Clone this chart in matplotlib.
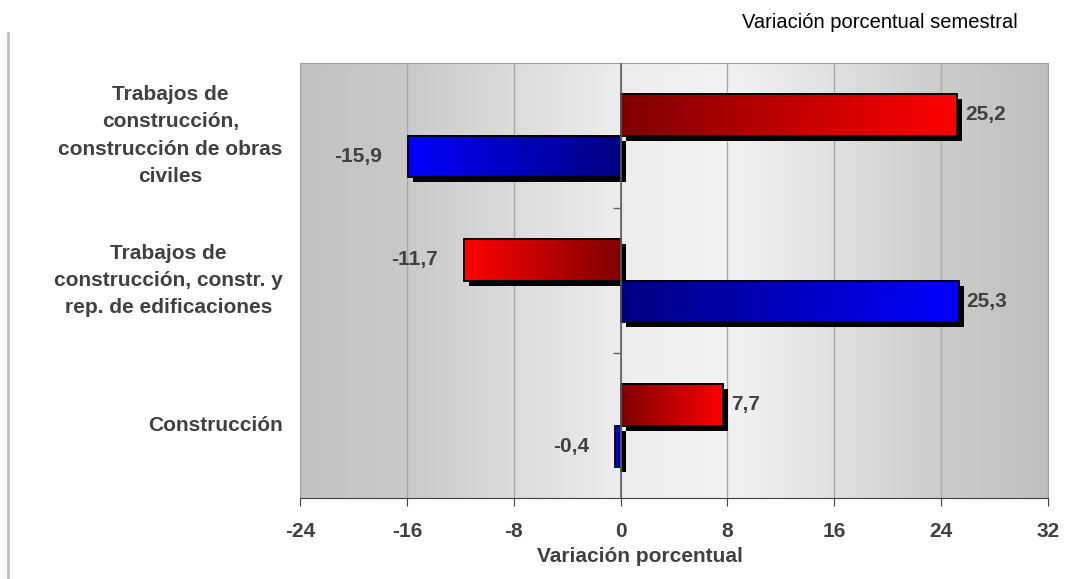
import numpy as np
import matplotlib
matplotlib.use("Agg")
import matplotlib.pyplot as plt
import matplotlib.transforms as mtransforms
from matplotlib.patches import Rectangle
from matplotlib.colors import LinearSegmentedColormap

plt.rcParams["font.family"] = ["Liberation Sans", "DejaVu Sans"]

# datos
categorias = ["Construcción",
              "Trabajos de\nconstrucción, constr. y\nrep. de edificaciones",
              "Trabajos de\nconstrucción,\nconstrucción de obras\nciviles"]
serie_roja = [7.7, -11.7, 25.2]
serie_azul = [-0.4, 25.3, -15.9]
ticks_x = [-24, -16, -8, 0, 8, 16, 24, 32]

texto_gris = "#404040"
fs = 15

fig = plt.figure(figsize=(10.72, 5.79), dpi=100)
ax = fig.add_axes([300 / 1072, 81 / 579, 748 / 1072, 435 / 579])
ax.set_xlim(-24, 32)
ax.set_ylim(-0.5, 2.5)

# fondo degradado
xs = np.linspace(-24, 32, 400)
grises = np.interp(xs, [-24, -16, -8, 0, 8, 16, 24, 32],
                   [0.76, 0.79, 0.86, 0.93, 0.95, 0.88, 0.80, 0.75])
fondo = np.repeat(grises[None, :, None], 3, axis=2)
ax.imshow(fondo, extent=(-24, 32, -0.5, 2.5), aspect="auto", zorder=0,
          interpolation="bilinear")

for t in ticks_x:
    ax.axvline(t, color="#a8a8a8", lw=1, zorder=1)

cmap_rojo = LinearSegmentedColormap.from_list("r", ["#800000", "#ff0000"])
cmap_azul = LinearSegmentedColormap.from_list("b", ["#000080", "#0000ff"])
sombra = mtransforms.offset_copy(ax.transData, fig=fig, x=5, y=-5, units="dots")

alto = 0.285
grad = np.linspace(0, 1, 256)[None, :]


def barra(y, v, cmap):
    ax.add_patch(Rectangle((0, y - alto / 2), v, alto, facecolor="black",
                           edgecolor="none", transform=sombra, zorder=2))
    g = grad if v >= 0 else grad[:, ::-1]
    ax.imshow(g, cmap=cmap, extent=(min(0, v), max(0, v), y - alto / 2, y + alto / 2),
              aspect="auto", zorder=3, interpolation="bilinear")
    ax.add_patch(Rectangle((0, y - alto / 2), v, alto, facecolor="none",
                           edgecolor="black", lw=1.3, zorder=4))
    etiqueta = f"{v:.1f}".replace(".", ",")
    if v >= 0:
        ax.annotate(etiqueta, (v, y), xytext=(8, 0),
                    textcoords="offset pixels", ha="left", va="center",
                    fontsize=fs, fontweight="bold", color=texto_gris)
    else:
        ax.annotate(etiqueta, (v, y), xytext=(-26, 0),
                    textcoords="offset pixels", ha="right", va="center",
                    fontsize=fs, fontweight="bold", color=texto_gris)


for i in range(3):
    barra(i + alto / 2, serie_roja[i], cmap_rojo)
    barra(i - alto / 2, serie_azul[i], cmap_azul)

ax.set_xlim(-24, 32)
ax.set_ylim(-0.5, 2.5)

# eje cero y marcas
ax.axvline(0, color="#606060", lw=1.2, zorder=5)
for b in [0.5, 1.5]:
    ax.plot([0], [b], marker=0, markersize=6, color="#606060", zorder=5)

ax.set_yticks([])
ax.set_xticks(ticks_x)
ax.set_xticklabels([str(t) for t in ticks_x], fontsize=fs,
                   fontweight="bold", color=texto_gris)
ax.tick_params(axis="x", length=6, color="#404040", pad=11)
for s in ["top", "right", "left"]:
    ax.spines[s].set_color("#a0a0a0")
ax.spines["bottom"].set_color("#404040")

fig.text(640 / 1072, 1 - 556 / 579, "Variación porcentual", ha="center",
         va="center", fontsize=fs, fontweight="bold", color=texto_gris)

for i, c in enumerate(categorias):
    ax.text(-0.023, i, c, transform=ax.get_yaxis_transform(), ha="right",
            va="center", multialignment="center", fontsize=fs,
            fontweight="bold", color=texto_gris, linespacing=1.55)

fig.text(1018 / 1072, 1 - 22 / 579, "Variación porcentual semestral",
         ha="right", va="center", fontsize=14.5, color="black")

fig.add_artist(plt.Line2D([8 / 1072, 8 / 1072], [0, 1 - 33 / 579],
                          color="#c0c0c0", lw=2))

fig.savefig("out.png", dpi=100)
